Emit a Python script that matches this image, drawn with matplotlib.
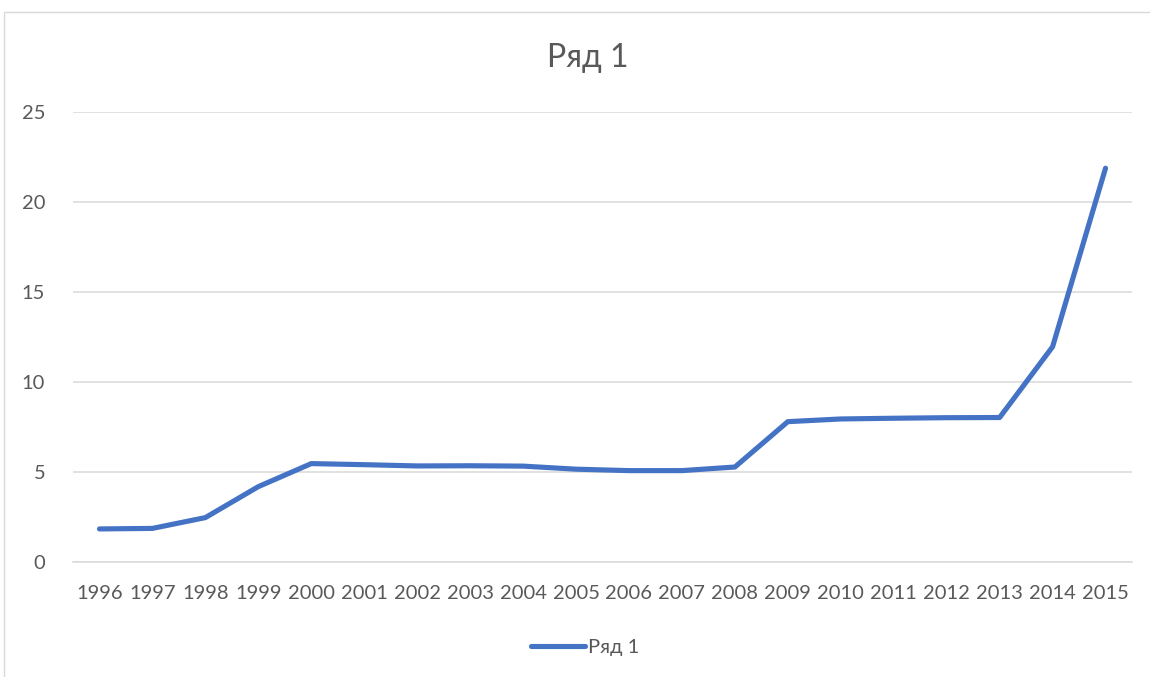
import matplotlib
matplotlib.use("Agg")
import matplotlib.pyplot as plt
from matplotlib.patches import Rectangle

years = [str(y) for y in range(1996, 2016)]
values = [1.82, 1.85, 2.45, 4.17, 5.45, 5.39, 5.32, 5.33, 5.31, 5.14,
          5.06, 5.06, 5.26, 7.78, 7.93, 7.97, 8.0, 8.01, 11.94, 21.86]
series_name = "Ряд 1"
yticks = [0, 5, 10, 15, 20, 25]

W, H = 1150, 677
fig = plt.figure(figsize=(W / 100, H / 100), dpi=100)
fig.patch.set_facecolor("white")
plt.rcParams['font.family'] = ['Lato', 'DejaVu Sans']

# chart border
fig.add_artist(Rectangle((4 / W, -0.01), 1.1, (H - 12) / H + 0.01, transform=fig.transFigure,
                         fill=False, edgecolor="#D9D9D9", linewidth=1.0))

left, right = 73 / W, 1132 / W
bottom, top = (H - 561.7) / H, (H - 111.7) / H
ax = fig.add_axes([left, bottom, right - left, top - bottom])

x = list(range(len(years)))
line, = ax.plot(x, values, color="#4472C4", linewidth=3.7, solid_capstyle="round",
                solid_joinstyle="round", label=series_name)

ax.set_xlim(-0.5, len(years) - 0.5)
ax.set_ylim(0, 25)
ax.set_yticks(yticks)
ax.set_xticks(x)
ax.set_xticklabels(years)
ax.grid(axis="y", color="#D9D9D9", linewidth=1.1)
ax.set_axisbelow(True)
for s in ["top", "right", "left"]:
    ax.spines[s].set_visible(False)
ax.spines["bottom"].set_color("#D9D9D9")
ax.spines["bottom"].set_linewidth(1.1)
ax.tick_params(axis="both", length=0, labelsize=14.5, colors="#595959")
ax.tick_params(axis="y", pad=20)
ax.tick_params(axis="x", pad=17)

fig.text(588 / W, (H - 58) / H, series_name, ha="center", va="center", fontsize=23, color="#595959")

leg = fig.legend(handles=[line], loc="center", bbox_to_anchor=(560 / W + 0.022, (H - 647) / H),
                 frameon=False, fontsize=14.5, handlelength=2.7, handletextpad=0.15)
for t in leg.get_texts():
    t.set_color("#595959")

fig.savefig("out.png", dpi=100, facecolor="white")
